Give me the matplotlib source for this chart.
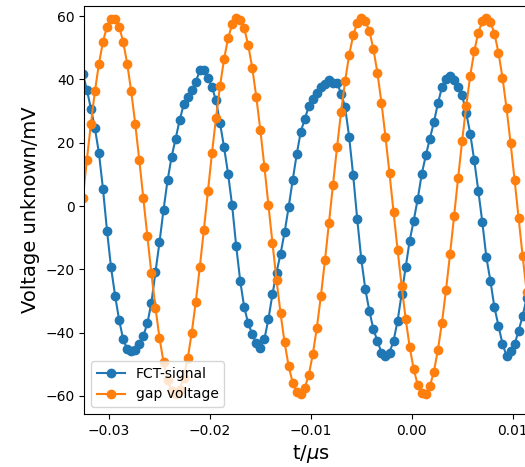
import numpy as np
import matplotlib
matplotlib.use("Agg")
import matplotlib.pyplot as plt

# sampling of the scope trace (time in microseconds)
t_start = -0.0326
dt = 0.0004

# FCT signal, values
fct_signal = [41.8, 36.8, 30.8, 24.6, 16.7, 5.4, -7.8, -19.4, -28.3, -36.0, -42.1, -45.2, -45.8,
              -45.6, -43.7, -41.0, -37.1, -30.5, -20.9, -11.5,
              -1.2, 8.1, 15.5, 21.3, 27.1, 32.1, 34.5, 36.6, 39.2,
              42.9, 42.9, 40.6, 37.6, 33.4, 26.2, 18.6, 10.2, 0.2,
              -12.5, -23.6, -32.0, -37.1, -40.5, -43.4, -44.7,
              -42.0, -35.7, -27.8, -21.0, -15.1, -8.3, -0.4, 8.1, 16.3, 23.4,
              27.5, 31.5, 33.9, 35.7, 37.6, 38.7, 39.7, 38.9, 38.9,
              35.5, 31.3, 21.8, 9.7, -4.1, -16.7, -26.2, -33.1, -38.9, -42.6, -46.3,
              -47.3, -46.3, -42.6, -36.3, -27.8, -19.4, -10.9, -4.6, 2.3, 10.2, 16.0,
              21.3, 26.5, 32.4, 37.6, 40.2, 41.0, 39.7, 37.6, 35.0,
              29.5, 22.9, 14.4, 4.9, -5.1, -16.2, -23.6, -32.0, -37.8, -43.6,
              -47.3, -45.8, -43.6, -39.4, -34.7, -28.9, -21.0, -12.0]

# gap voltage
gap_voltage = [2.5, 14.5, 25.9, 36.2, 45.0, 51.9, 56.7, 59.2, 59.2, 56.7, 51.9, 45.0, 36.2, 25.9, 14.5, 2.5,
               -9.6, -21.3, -32.1, -41.6, -49.3, -55.0, -58.5, -59.5, -58.0, -54.2, -48.1, -40.0, -30.2, -19.2, -7.5,
               4.6, 16.6, 27.8, 37.9, 46.4, 53.0, 57.4, 59.4, 58.9, 56.1, 50.8, 43.5, 34.4, 23.9, 12.4, 0.3,
               -11.7, -23.3, -33.9, -43.1, -50.5, -55.8, -58.8, -59.4, -57.5, -53.3, -46.8, -38.4, -28.4, -17.2, -5.3,
               6.8, 18.6, 29.7, 39.5, 47.7, 53.9, 57.9, 59.5, 58.6, 55.3, 49.7, 42.1, 32.7, 21.9, 10.3,
               -1.8, -13.8, -25.2, -35.6, -44.5, -51.6, -56.5, -59.1, -59.3, -56.9, -52.3, -45.4, -36.8, -26.5, -15.2, -3.2,
               8.9, 20.6, 31.5, 41.1, 48.9, 54.8, 58.3, 59.5, 58.2, 54.5, 48.5, 40.5, 30.9, 19.9, 8.2,
               -3.9, -15.9, -27.2, -37.3, -45.9]

t = t_start + dt * np.arange(len(fct_signal))

fig = plt.figure(figsize=(5.25, 4.67), dpi=100)
# axes runs past the right border like in the original screenshot
ax = fig.add_axes([0.1606, 0.1135, 0.8638, 0.8737])

ax.plot(t, fct_signal, "o-", label="FCT-signal")
ax.plot(t, gap_voltage, "o-", label="gap voltage")

ax.set_xlim(-0.03245, 0.0125)
ax.set_ylim(-65.7, 63.2)
ax.set_xticks([-0.03, -0.02, -0.01, 0.00, 0.01])
ax.set_xlabel(r"t/$\mu$s", fontsize=14)
ax.set_ylabel("Voltage unknown/mV", fontsize=14)
ax.legend(loc="lower left")

fig.savefig("out.png", dpi=100)
